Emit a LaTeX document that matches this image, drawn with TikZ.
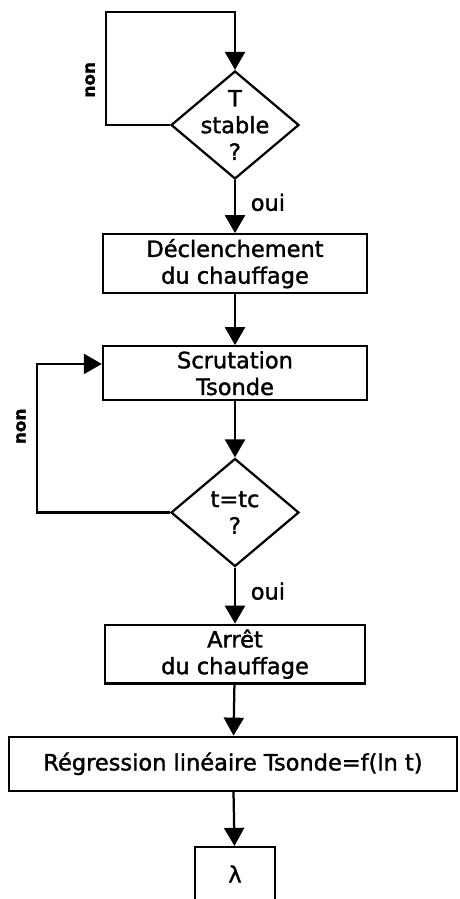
\documentclass[tikz,border=0pt]{standalone}
\usepackage{fontspec}
\setmainfont{DejaVu Sans}[FakeBold=1.5]
\usetikzlibrary{positioning, shapes.geometric, arrows.meta}

\begin{document}
\begin{tikzpicture}[
    box/.style={rectangle, draw=black, line width=1.6pt,
      minimum width=6.6cm, minimum height=1.35cm, align=center, font=\fontsize{16}{19}\selectfont},
    decision/.style={diamond, draw=black, line width=1.6pt, aspect=1.18, inner sep=-6pt,
      minimum width=3.2cm, minimum height=2.7cm, align=center, font=\fontsize{16}{19}\selectfont},
    arrow/.style={-{Triangle[width=0.5cm, length=0.45cm]}, line width=1.6pt, black},
    lab/.style={font=\fontsize{16}{19}\selectfont},
    vlab/.style={font=\fontsize{12}{14}\selectfont\bfseries, rotate=90, anchor=south, inner sep=7pt}
  ]
    \useasboundingbox (0,0) rectangle (11.5,-22.475);

    \node[decision] (stable) at (5.875,-3.125) {T\\stable\\?};
    \node[box, below=1.325cm of stable]  (start) {Déclenchement\\du chauffage};
    \node[box, below=1.275cm of start]   (scan)  {Scrutation\\Tsonde};
    \node[decision, below=1.4cm of scan] (time) {t=tc\\?};
    \node[box, minimum width=6.5cm, below=1.4cm of time] (stop) {Arrêt\\du chauffage};
    \node[box, minimum width=11.2cm, below=1.275cm of stop, xshift=-0.05cm] (regr)
      {Régression linéaire Tsonde=f(ln t)};
    \node[box, minimum width=2cm, below=1.35cm of regr, xshift=0.05cm] (lambda) {λ};

    \coordinate[above left=1.45cm and 3.225cm of stable.north] (loop1);
    \coordinate[left=1.625cm of scan.176] (loop2);

    \draw[arrow] (stable.west) -| node[pos=0.7, vlab] {non} (loop1) -| (stable.north);
    \draw[arrow] (stable) -- node[pos=0.42, right=0.25cm, lab] {oui} (start);
    \draw[arrow] (start) -- (scan);
    \draw[arrow] (scan) -- (time);
    \draw[arrow] (time.west) -| node[pos=0.79, vlab] {non} (loop2) -- (scan.176);
    \draw[arrow] (time) -- node[pos=0.42, right=0.25cm, lab] {oui} (stop);
    \draw[arrow] (stop) -- (regr);
    \draw[arrow] (regr) -- (lambda);
  \end{tikzpicture}
\end{document}
